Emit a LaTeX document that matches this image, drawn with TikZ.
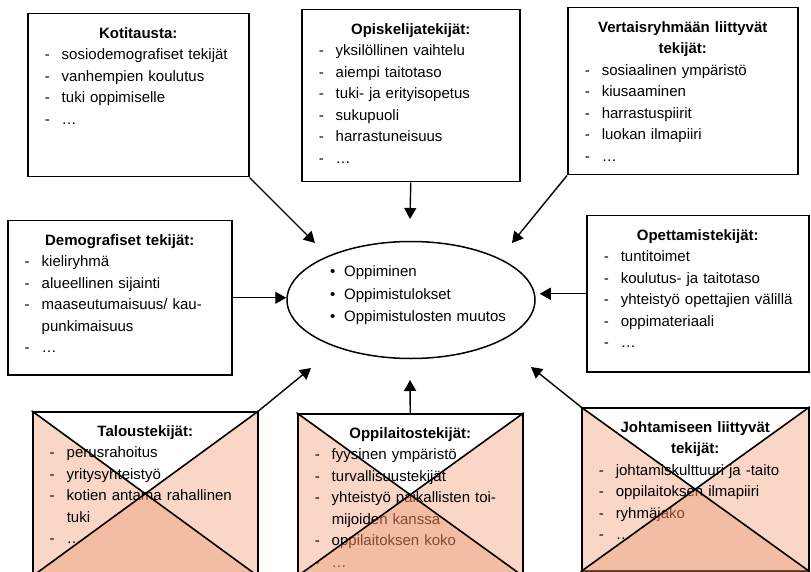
\documentclass[tikz,border=0pt]{standalone}
\usepackage{fontspec}
\setmainfont{Liberation Sans}
\usetikzlibrary{arrows.meta,positioning,shapes.geometric}
\pgfdeclarelayer{bg}
\pgfsetlayers{bg,main}
\definecolor{peachlt}{HTML}{F9D6C5}
\definecolor{peachdk}{HTML}{EA8757}
\newcommand{\boxhead}[1]{{\centering\noindent\strut\bfseries #1\par}}
\newcommand{\boxitem}[1]{\par\noindent\hangindent=34pt\hangafter=1\hspace*{17pt}\makebox[17pt][l]{-}#1}

\begin{document}
\begin{tikzpicture}[x=1pt,y=-1pt,
  box/.style={draw,line width=1.5pt,inner sep=0pt,anchor=north west},
  txt/.style={inner sep=0pt,anchor=north,align=left,font=\fontsize{15}{21.5}\selectfont},
  ell/.style={draw,ellipse,line width=1.5pt,minimum width=248pt,minimum height=117pt,inner sep=0pt},
  arr/.style={-{Triangle[length=11pt,width=12pt]},line width=1.4pt},
  cross/.style={line width=1.6pt,line cap=round}]
\useasboundingbox (0,0) rectangle (811,572);

% centre
\node[ell] (learn) at (411,300) {};
\node[inner sep=0pt,anchor=north west,align=left,text width=190pt,font=\fontsize{15}{22.5}\selectfont] (learnt) at (330,261)
  {\strut\makebox[14pt][l]{\textbullet}Oppiminen\\
   \makebox[14pt][l]{\textbullet}Oppimistulokset\\
   \makebox[14pt][l]{\textbullet}Oppimistulosten muutos};

% upper boxes
\node[box,minimum width=221pt,minimum height=163pt] (koti) at (27,13) {};
\node[txt,text width=221pt] (kotit) at ([yshift=-10pt]koti.north)
  {\boxhead{Kotitausta:}\boxitem{sosiodemografiset tekijät}\boxitem{vanhempien koulutus}\boxitem{tuki oppimiselle}\boxitem{\dots}};
\node[box,minimum width=218pt,minimum height=172pt] (opis) at (301,9) {};
\node[txt,text width=218pt] (opist) at ([yshift=-10pt]opis.north)
  {\boxhead{Opiskelijatekijät:}\boxitem{yksilöllinen vaihtelu}\boxitem{aiempi taitotaso}\boxitem{tuki- ja erityisopetus}\boxitem{sukupuoli}\boxitem{harrastuneisuus}\boxitem{\dots}};
\node[box,minimum width=230pt,minimum height=167pt] (vert) at (567,7) {};
\node[txt,text width=230pt] (vertt) at ([yshift=-10pt]vert.north)
  {\boxhead{Vertaisryhmään liittyvät}\boxhead{tekijät:}\boxitem{sosiaalinen ympäristö}\boxitem{kiusaaminen}\boxitem{harrastuspiirit}\boxitem{luokan ilmapiiri}\boxitem{\dots}};

% middle boxes
\node[box,minimum width=224pt,minimum height=154pt] (demo) at (7,220) {};
\node[txt,text width=224pt] (demot) at ([yshift=-10pt]demo.north)
  {\boxhead{Demografiset tekijät:}\boxitem{kieliryhmä}\boxitem{alueellinen sijainti}\boxitem{maaseutumaisuus/ kau-\newline punkimaisuus}\boxitem{\dots}};
\node[box,minimum width=222pt,minimum height=156pt] (opet) at (586,215) {};
\node[txt,text width=222pt] (opett) at ([yshift=-10pt]opet.north)
  {\boxhead{Opettamistekijät:}\boxitem{tuntitoimet}\boxitem{koulutus- ja taitotaso}\boxitem{yhteistyö opettajien välillä}\boxitem{oppimateriaali}\boxitem{\dots}};

% lower boxes (crossed out)
\node[box,minimum width=225pt,minimum height=164pt] (talo) at (32,411) {};
\node[txt,text width=225pt] (talot) at ([yshift=-10pt]talo.north)
  {\boxhead{Taloustekijät:}\boxitem{perusrahoitus}\boxitem{yritysyhteistyö}\boxitem{kotien antama rahallinen\newline tuki}\boxitem{\dots}};
\node[box,minimum width=225pt,minimum height=162pt] (oppil) at (297,413) {};
\node[txt,text width=225pt] (oppilt) at ([yshift=-10pt]oppil.north)
  {\boxhead{Oppilaitostekijät:}\boxitem{fyysinen ympäristö}\boxitem{turvallisuustekijät}\boxitem{yhteistyö paikallisten toi-\newline mijoiden kanssa}\boxitem{oppilaitoksen koko}\boxitem{\dots}};
\node[box,minimum width=227pt,minimum height=163pt] (joht) at (581,407) {};
\node[txt,text width=227pt] (johtt) at ([yshift=-10pt]joht.north)
  {\boxhead{Johtamiseen liittyvät}\boxhead{tekijät:}\boxitem{johtamiskulttuuri ja -taito}\boxitem{oppilaitoksen ilmapiiri}\boxitem{ryhmäjako}\boxitem{\dots}};

\begin{pgfonlayer}{bg}
\foreach \b in {talo,oppil,joht}{
  \fill[peachlt] (\b.north west) -- (\b.center) -- (\b.south west) -- cycle;
  \fill[peachlt] (\b.north east) -- (\b.center) -- (\b.south east) -- cycle;
}
\end{pgfonlayer}
\foreach \b in {talo,oppil,joht}{
  \fill[peachdk,fill opacity=.55] (\b.south west) -- (\b.center) -- (\b.south east) -- cycle;
  \draw[cross] (\b.north west) -- (\b.south east) (\b.north east) -- (\b.south west);
}

% arrows
\coordinate (kotitip) at (315,243);
\coordinate (opistip) at (410,219);
\coordinate (verttip) at (512,243);
\coordinate (talotip) at (311,368);
\coordinate (oppiltip) at (410,380);
\coordinate (johttip) at (531,367);
\draw[arr] (koti.south east) -- (kotitip);
\draw[arr] (opis.south) -- (opistip);
\draw[arr] (vert.south west) -- (verttip);
\draw[arr] (demo.east) -- (demo.east -| learn.west);
\draw[arr] (opet.west) -- ([xshift=4pt]opet.west -| learn.east);
\draw[arr] (talo.north east) -- (talotip);
\draw[arr] (oppil.north) -- (oppiltip);
\draw[arr] (joht.north west) -- (johttip);
\end{tikzpicture}
\end{document}
